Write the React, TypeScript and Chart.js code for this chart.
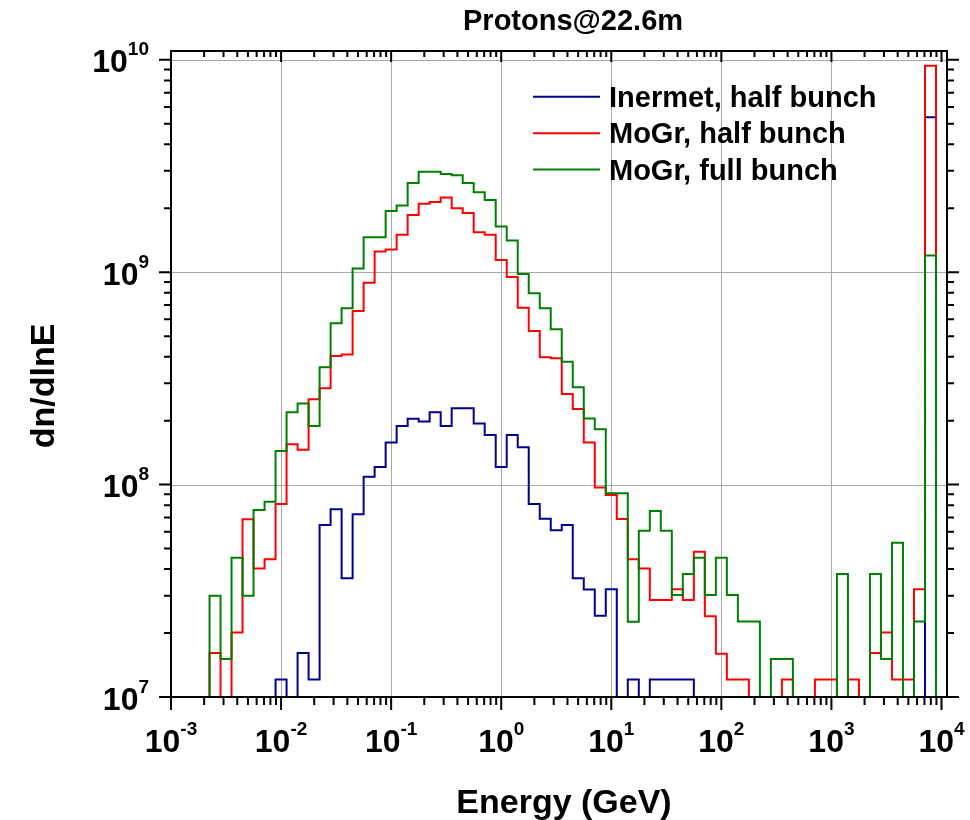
import React, { useEffect, useRef } from 'react';
import { Chart, registerables } from 'chart.js';

Chart.register(...registerables);

// log10 of bin-centre energies (GeV), 10 bins per decade
const binCentersLog = [
  -2.7, -2.6, -2.5, -2.4, -2.3, -2.2, -2.1, -2.0, -1.9, -1.8,
  -1.7, -1.6, -1.5, -1.4, -1.3, -1.2, -1.1, -1.0, -0.9, -0.8,
  -0.7, -0.6, -0.5, -0.4, -0.3, -0.2, -0.1, 0.0, 0.1, 0.2,
  0.3, 0.4, 0.5, 0.6, 0.7, 0.8, 0.9, 1.0, 1.1, 1.2,
  1.3, 1.4, 1.5, 1.6, 1.7, 1.8, 1.9, 2.0, 2.1, 2.2,
  2.3, 2.4, 2.5, 2.6, 2.7, 2.8, 2.9, 3.0, 3.1, 3.2,
  3.3, 3.4, 3.5, 3.6, 3.7, 3.8, 3.9,
];
const binHalfWidthLog = 0.05;

const inermetHalf = [
  0, 0, 0, 0, 0, 0, 0, 1.21e7, 0, 1.61e7,
  1.21e7, 6.45e7, 7.65e7, 3.62e7, 7.25e7, 1.09e8, 1.21e8, 1.58e8, 1.89e8, 2.04e8,
  1.98e8, 2.19e8, 1.89e8, 2.29e8, 2.29e8, 1.94e8, 1.71e8, 1.21e8, 1.71e8, 1.5e8,
  8.1e7, 6.9e7, 6.1e7, 6.45e7, 3.62e7, 3.21e7, 2.41e7, 3.22e7, 0, 1.21e7,
  0, 1.21e7, 1.21e7, 1.21e7, 1.21e7, 0, 0, 0, 0, 0,
  0, 0, 0, 0, 0, 0, 0, 0, 0, 0,
  0, 0, 0, 0, 0, 0, 5.37e9,
];
const mogrHalf = [
  0, 1.61e7, 0, 2.01e7, 6.87e7, 4.03e7, 4.45e7, 8.1e7, 1.55e8, 1.46e8,
  2.52e8, 2.84e8, 4.03e8, 4.1e8, 6.57e8, 8.93e8, 1.25e9, 1.28e9, 1.5e9, 1.86e9,
  2.1e9, 2.14e9, 2.25e9, 2.0e9, 1.9e9, 1.54e9, 1.5e9, 1.14e9, 9.5e8, 6.81e8,
  5.29e8, 3.98e8, 3.93e8, 2.67e8, 2.27e8, 1.58e8, 9.7e7, 8.93e7, 6.89e7, 4.45e7,
  4.03e7, 2.86e7, 2.86e7, 3.22e7, 2.86e7, 4.83e7, 2.4e7, 1.6e7, 1.21e7, 1.21e7,
  0, 0, 0, 1.21e7, 0, 0, 1.21e7, 1.21e7, 0, 1.21e7,
  0, 1.61e7, 2.01e7, 1.21e7, 1.21e7, 3.22e7, 9.37e9,
];
const mogrFull = [
  0, 3.0e7, 1.51e7, 4.53e7, 3.0e7, 7.6e7, 8.3e7, 1.44e8, 2.19e8, 2.41e8,
  1.89e8, 3.57e8, 5.75e8, 6.77e8, 1.04e9, 1.46e9, 1.46e9, 1.94e9, 2.06e9, 2.63e9,
  2.97e9, 2.97e9, 2.9e9, 2.86e9, 2.63e9, 2.38e9, 2.19e9, 1.64e9, 1.41e9, 9.8e8,
  7.96e8, 6.77e8, 5.39e8, 3.79e8, 2.87e8, 2.05e8, 1.82e8, 9.1e7, 9.1e7, 2.26e7,
  6.07e7, 7.51e7, 6.07e7, 3.02e7, 3.79e7, 4.53e7, 3.02e7, 4.53e7, 3.02e7, 2.27e7,
  2.27e7, 0, 1.51e7, 1.51e7, 0, 0, 0, 0, 3.79e7, 0,
  0, 3.79e7, 1.51e7, 5.33e7, 0, 2.27e7, 1.2e9,
];

const seriesNames = ['Inermet, half bunch', 'MoGr, half bunch', 'MoGr, full bunch'];
const seriesColors = ['#00008f', '#ff0000', '#008000'];
const xTickExponents = [-3, -2, -1, 0, 1, 2, 3, 4];
const yTickExponents = [7, 8, 9, 10];
const titleText = 'Protons@22.6m';
const xTitle = 'Energy (GeV)';
const yTitle = 'dn/dlnE';

const X_MIN = 1e-3;
const X_MAX = Math.pow(10, 4.05);
const Y_MIN = 1e7;
const Y_MAX = 1.1e10;
const OFF_CHART = 1e3; // empty bins drop below the axis

const FONT = '"Liberation Sans", Arial, sans-serif';

function buildPoints(values: number[]) {
  const pts = binCentersLog.map((c, i) => ({
    x: Math.pow(10, c - binHalfWidthLog),
    y: values[i] > 0 ? values[i] : OFF_CHART,
  }));
  const last = binCentersLog[binCentersLog.length - 1];
  pts.push({ x: Math.pow(10, last + binHalfWidthLog), y: OFF_CHART });
  return pts;
}

const gridPlugin = {
  id: 'customGrid',
  beforeDatasetsDraw(chart: any) {
    const { ctx, chartArea, scales } = chart;
    const xs = scales.x;
    const ys = scales.y;
    ctx.save();
    ctx.strokeStyle = '#a8a8a8';
    ctx.lineWidth = 1;
    for (const e of xTickExponents) {
      if (e <= -3 || e >= 4) continue;
      const px = Math.round(xs.getPixelForValue(Math.pow(10, e))) + 0.5;
      ctx.beginPath();
      ctx.moveTo(px, chartArea.top);
      ctx.lineTo(px, chartArea.bottom);
      ctx.stroke();
    }
    for (const e of yTickExponents) {
      if (e <= 7) continue;
      const py = Math.round(ys.getPixelForValue(Math.pow(10, e))) + 0.5;
      ctx.beginPath();
      ctx.moveTo(chartArea.left, py);
      ctx.lineTo(chartArea.right, py);
      ctx.stroke();
    }
    ctx.restore();
  },
};

function drawPow(ctx: CanvasRenderingContext2D, base: string, exp: string, x: number, baseline: number, align: 'center' | 'right') {
  const bigFont = `bold 32px ${FONT}`;
  const smallFont = `bold 19px ${FONT}`;
  ctx.font = bigFont;
  const wb = ctx.measureText(base).width;
  ctx.font = smallFont;
  const we = ctx.measureText(exp).width;
  const total = wb + we;
  const left = align === 'center' ? x - total / 2 : x - total;
  ctx.textAlign = 'left';
  ctx.textBaseline = 'alphabetic';
  ctx.font = bigFont;
  ctx.fillText(base, left, baseline);
  ctx.font = smallFont;
  ctx.fillText(exp, left + wb, baseline - 17);
}

const axesPlugin = {
  id: 'customAxes',
  afterDraw(chart: any) {
    const { ctx, chartArea, scales } = chart;
    const xs = scales.x;
    const ys = scales.y;
    const { left, right, top, bottom } = chartArea;
    ctx.save();
    ctx.strokeStyle = '#000';
    ctx.fillStyle = '#000';
    ctx.lineWidth = 2;
    ctx.lineCap = 'square';
    // frame
    ctx.beginPath();
    ctx.moveTo(left, top);
    ctx.lineTo(right, top);
    ctx.lineTo(right, bottom);
    ctx.lineTo(left, bottom);
    ctx.closePath();
    ctx.stroke();
    ctx.lineCap = 'butt';

    // x ticks
    for (let e = -3; e <= 4; e++) {
      for (let m = 1; m <= 9; m++) {
        const v = m * Math.pow(10, e);
        if (v < X_MIN || v > X_MAX) continue;
        const px = xs.getPixelForValue(v);
        const major = m === 1;
        const lb = major ? 13 : 8;
        const lt = major ? 11 : 6;
        ctx.beginPath();
        ctx.moveTo(px, bottom);
        ctx.lineTo(px, bottom + lb);
        ctx.moveTo(px, top);
        ctx.lineTo(px, top + lt);
        ctx.stroke();
      }
    }
    // y ticks
    for (let e = 7; e <= 10; e++) {
      for (let m = 1; m <= 9; m++) {
        const v = m * Math.pow(10, e);
        if (v < Y_MIN || v > Y_MAX) continue;
        const py = ys.getPixelForValue(v);
        const major = m === 1;
        const l = major ? 12 : 7;
        ctx.beginPath();
        ctx.moveTo(left, py);
        ctx.lineTo(left - l, py);
        ctx.moveTo(right, py);
        ctx.lineTo(right + l, py);
        ctx.stroke();
      }
    }

    // tick labels
    for (const e of xTickExponents) {
      const px = xs.getPixelForValue(Math.pow(10, e));
      drawPow(ctx, '10', String(e), px, bottom + 55, 'center');
    }
    for (const e of yTickExponents) {
      const py = ys.getPixelForValue(Math.pow(10, e));
      drawPow(ctx, '10', String(e), 149, py + 12.5, 'right');
    }

    // title
    ctx.font = `bold 29px ${FONT}`;
    ctx.textAlign = 'left';
    ctx.textBaseline = 'alphabetic';
    ctx.fillText(titleText, 463, 30);

    // axis titles
    ctx.font = `bold 34px ${FONT}`;
    ctx.textAlign = 'center';
    ctx.fillText(xTitle, 564, 813);
    ctx.save();
    ctx.translate(54, 386);
    ctx.rotate(-Math.PI / 2);
    ctx.fillText(yTitle, 0, 0);
    ctx.restore();

    // legend
    const legendY = [96.7, 133.3, 169.5];
    ctx.font = `bold 29px ${FONT}`;
    ctx.textAlign = 'left';
    seriesNames.forEach((name, i) => {
      ctx.strokeStyle = seriesColors[i];
      ctx.lineWidth = 2;
      ctx.beginPath();
      ctx.moveTo(533, legendY[i]);
      ctx.lineTo(600, legendY[i]);
      ctx.stroke();
      ctx.fillStyle = '#000';
      ctx.fillText(name, 609, legendY[i] + 10);
    });
    ctx.restore();
  },
};

export default function App() {
  const canvasRef = useRef<HTMLCanvasElement | null>(null);

  useEffect(() => {
    if (!canvasRef.current) return;
    const seriesValues = [inermetHalf, mogrHalf, mogrFull];
    const chart = new Chart(canvasRef.current, {
      type: 'line',
      data: {
        datasets: seriesValues.map((vals, i) => ({
          label: seriesNames[i],
          data: buildPoints(vals),
          borderColor: seriesColors[i],
          backgroundColor: seriesColors[i],
          borderWidth: 2,
          pointRadius: 0,
          pointHoverRadius: 0,
          stepped: 'before' as const,
          fill: false,
          order: 3 - i,
          borderJoinStyle: 'miter' as const,
        })),
      },
      options: {
        responsive: false,
        maintainAspectRatio: false,
        animation: false,
        devicePixelRatio: 1,
        layout: { padding: { top: 51, right: 23, left: 0, bottom: 0 } },
        plugins: {
          legend: { display: false },
          title: { display: false },
          tooltip: { enabled: false },
        },
        events: [],
        scales: {
          x: {
            type: 'logarithmic',
            min: X_MIN,
            max: X_MAX,
            grid: { display: false },
            border: { display: false },
            ticks: { display: false },
            afterFit: (s: any) => { s.height = 123; },
          },
          y: {
            type: 'logarithmic',
            min: Y_MIN,
            max: Y_MAX,
            grid: { display: false },
            border: { display: false },
            ticks: { display: false },
            afterFit: (s: any) => { s.width = 171; },
          },
        },
      },
      plugins: [gridPlugin, axesPlugin],
    } as any);
    return () => chart.destroy();
  }, []);

  return (
    <div style={{ position: 'fixed', left: 0, top: 0, width: 970, height: 820, background: '#fff' }}>
      <canvas ref={canvasRef} width={970} height={820} style={{ width: 970, height: 820, display: 'block' }} />
    </div>
  );
}
